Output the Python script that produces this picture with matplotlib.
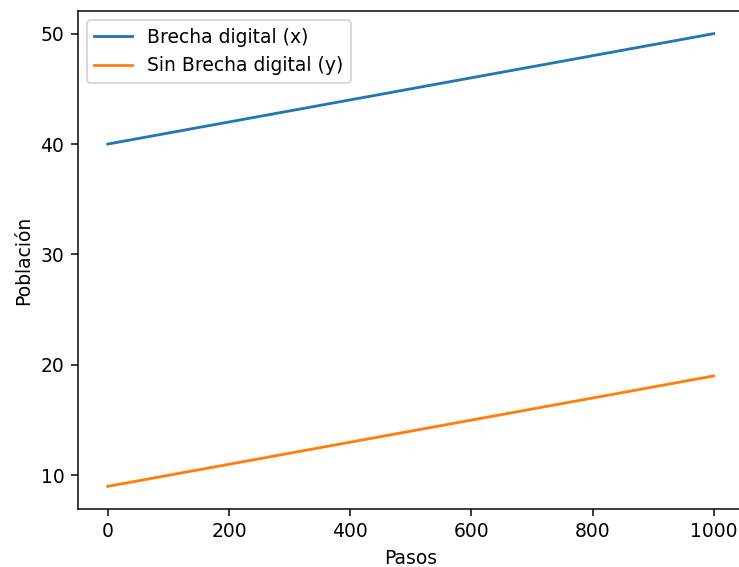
import matplotlib
matplotlib.use("Agg")
import matplotlib.pyplot as plt

pasos = [0, 1000]
brecha_x = [40, 50]
sin_brecha_y = [9, 19]


def plot_poblacion():
    dpi = 135
    fig = plt.figure(figsize=(739 / dpi, 567 / dpi), dpi=dpi)
    ax = fig.add_axes([77.5 / 739, 1 - 509 / 567, 666.5 / 739, 498 / 567])
    ax.plot(pasos, brecha_x, label='Brecha digital (x)')
    ax.plot(pasos, sin_brecha_y, label='Sin Brecha digital (y)')
    ax.set_xlabel('Pasos')
    ax.set_ylabel('Población')
    ax.legend(loc='upper left')
    fig.savefig('out.png', dpi=dpi)
    plt.close(fig)


if __name__ == '__main__':
    plot_poblacion()
